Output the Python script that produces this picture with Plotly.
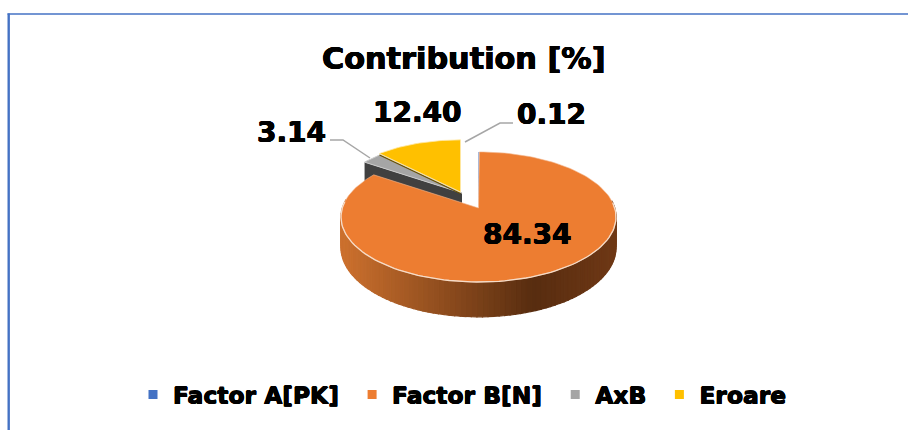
import math
import plotly.graph_objects as go

# ---- data ----
categories = ["Factor A[PK]", "Factor B[N]", "AxB", "Eroare"]
values = [0.12, 84.34, 3.14, 12.40]
labels = ["0.12", "84.34", "3.14", "12.40"]
colors = ["#4472C4", "#ED7D31", "#A5A5A5", "#FFC000"]
title_text = "Contribution [%]"

# ---- projection of the tilted pie, in canvas pixels ----
CX, CY, RX, RY, P = 479.0, 208.0, 136.2, 63.8, 0.138
apex = [(478.5, 208.0, 1.0), (478.5, 208.0, 1.0), (462.0, 193.0, 0.93), (460.5, 192.0, 0.93)]
depths = [30, 30, 15, 5]
HEAVY = "0.5px 0 0 black, -0.5px 0 0 black, 0 0.4px 0 black, 0 -0.4px 0 black"


def project(angle, frac, ax, ay, k):
    a = math.radians(angle)
    X, Y = math.sin(a) * frac, math.cos(a) * frac
    s = 1 / (1 + P * Y)
    return ax + RX * X * s * k, ay - RY * Y * s * k, s


def arc(a0, a1, ax, ay, k, n=None):
    n = n or max(2, int(abs(a1 - a0) / 1.5))
    return [project(a0 + (a1 - a0) * i / n, 1, ax, ay, k) for i in range(n + 1)]


def lerp(c0, c1, t):
    return tuple(c0[i] + (c1[i] - c0[i]) * t for i in range(3))


def wall_colour(x):
    if x < 533:
        c = lerp((203, 112, 46), (88, 45, 16), max(0, (x - 345) / 188))
    else:
        c = lerp((88, 45, 16), (112, 57, 22), (x - 533) / 84)
    return "rgb(%d,%d,%d)" % c


total = sum(values)
spans = []
start = 0.0
for v in values:
    spans.append((start, start + v / total * 360))
    start += v / total * 360

fig = go.Figure()


def poly(xs, ys, fill, line=None, width=0):
    fig.add_trace(go.Scatter(x=xs, y=ys, mode="lines", fill="toself", fillcolor=fill,
                             line=dict(color=line or fill, width=width),
                             hoverinfo="skip", showlegend=False))


# gray slice: side walls and top
a0, a1 = spans[2]
ax, ay, k = apex[2]
d = depths[2]
p = project(a0, 1, ax, ay, k)
poly([p[0], ax, ax, p[0], p[0]], [p[1], ay, ay + d + 12, p[1] + d + 12, p[1]], "#404040")
pts = arc(a0, a1, ax, ay, k)
poly([ax] + [q[0] for q in pts] + [ax], [ay] + [q[1] for q in pts] + [ay], colors[2], "#C9C9C9", 1)

# yellow slice: thin dark side line and top
a0, a1 = spans[3]
ax, ay, k = apex[3]
pts = arc(a0, a1, ax, ay, k)
fig.add_trace(go.Scatter(x=[ax, pts[0][0]], y=[ay + 1.5, pts[0][1] + 1.5], mode="lines",
                         line=dict(color="#6B5200", width=1.2), hoverinfo="skip", showlegend=False))
poly([ax] + [q[0] for q in pts] + [ax], [ay] + [q[1] for q in pts] + [ay], colors[3], "#FFE9A8", 0.8)

# blue sliver
a0, a1 = spans[0]
ax, ay, k = apex[0]
pts = arc(a0, a1, ax, ay, k, 2)
poly([ax] + [q[0] for q in pts] + [ax], [ay] + [q[1] for q in pts] + [ay], colors[0])

# orange slice: shaded wall, then top, then rim
a0, a1 = spans[1]
ax, ay, k = apex[1]
d = depths[1]
pts = arc(a0, a1, ax, ay, k, 150)
for q0, q1 in zip(pts[:-1], pts[1:]):
    if q0[2] >= 0.985 or q1[2] >= 0.985:  # near half of the rim only
        xm = (q0[0] + q1[0]) / 2
        c = wall_colour(xm)
        poly([q0[0], q1[0], q1[0], q0[0], q0[0]],
             [q0[1], q1[1], q1[1] + d * q1[2], q0[1] + d * q0[2], q0[1]], c, c, 1.2)
poly([ax] + [q[0] for q in pts] + [ax], [ay] + [q[1] for q in pts] + [ay], colors[1], "#F3B78F", 0.6)
rim = [q for q in pts if q[2] >= 0.985]
fig.add_trace(go.Scatter(x=[q[0] for q in rim], y=[q[1] for q in rim], mode="lines",
                         line=dict(color="#F6DCC8", width=1.3), hoverinfo="skip", showlegend=False))

# leader lines
for xs, ys in (([330, 343, 370], [140, 140, 158]), ([513, 500, 465], [123, 123, 142])):
    fig.add_trace(go.Scatter(x=xs, y=ys, mode="lines", line=dict(color="#A6A6A6", width=1.5),
                             hoverinfo="skip", showlegend=False))

# legend entries (a trailing no-break space widens the gap between entries)
for name, col in zip(categories, colors):
    fig.add_trace(go.Scatter(x=[None], y=[None], mode="markers", name=name + "\u00a0",
                             marker=dict(symbol="square", size=9, color=col)))

# data labels
label_pos = [(551, 114), (527, 234), (291, 132), (417, 112)]
for text, (x, y) in zip(labels, label_pos):
    fig.add_annotation(x=x, y=y, text="<b>%s</b>" % text, showarrow=False,
                       font=dict(family="DejaVu Sans", size=28, color="black", shadow=HEAVY))

fig.add_annotation(x=464, y=58, text="<b>%s</b>" % title_text, showarrow=False,
                   font=dict(family="DejaVu Sans", size=30.3, color="black", shadow=HEAVY))

# outer frame
fig.add_shape(type="line", x0=8.7, x1=8.7, y0=13.5, y1=430, line=dict(color="#4472C4", width=2.4))
fig.add_shape(type="line", x0=7.5, x1=908, y0=14, y1=14, line=dict(color="#4472C4", width=1.6))

fig.update_layout(
    width=908, height=430, margin=dict(l=0, r=0, t=0, b=0),
    paper_bgcolor="white", plot_bgcolor="white",
    xaxis=dict(range=[0, 908], visible=False, fixedrange=True),
    yaxis=dict(range=[430, 0], visible=False, fixedrange=True),
    showlegend=True,
    legend=dict(orientation="h", x=133 / 908, xanchor="left", y=0.082, yanchor="middle",
                font=dict(family="DejaVu Sans", size=23.4, color="black", weight="bold", shadow=HEAVY),
                itemwidth=30, traceorder="normal", bgcolor="rgba(0,0,0,0)"),
)
fig.write_html("out.html", config={"displayModeBar": False},
               post_script="document.body.style.margin='0';")
